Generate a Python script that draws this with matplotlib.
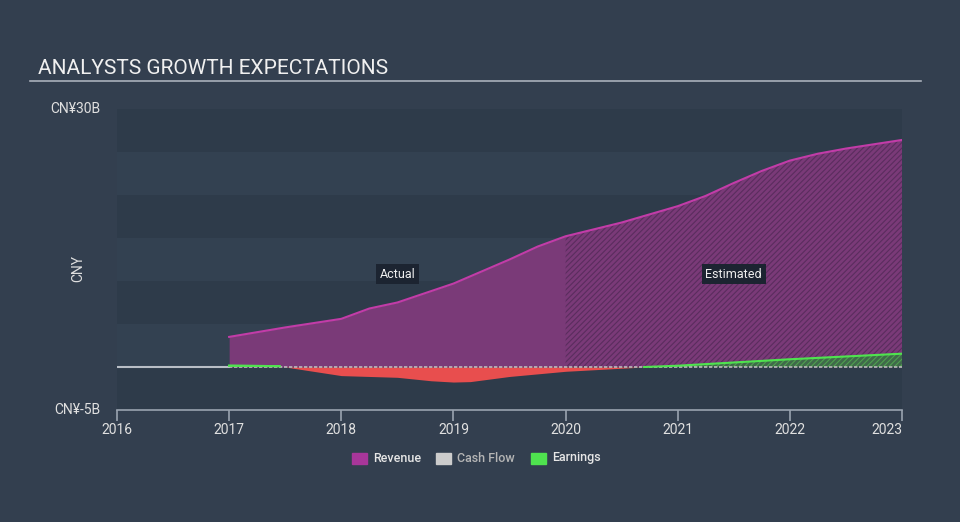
import matplotlib.pyplot as plt
import numpy as np

plt.rcParams['font.family'] = ['Roboto', 'DejaVu Sans']
plt.rcParams['hatch.linewidth'] = 0.8

# revenue, CNY billions
rev_x = [2017.0, 2017.5, 2018.0, 2018.25, 2018.5, 2018.75, 2019.0, 2019.25, 2019.5, 2019.75, 2020.0,
         2020.5, 2021.0, 2021.25, 2021.5, 2021.75, 2022.0, 2022.25, 2022.5, 2022.75, 2023.0]
rev_y = [3.5, 4.6, 5.6, 6.8, 7.5, 8.6, 9.7, 11.1, 12.5, 14.0, 15.2,
         16.8, 18.7, 19.9, 21.4, 22.8, 24.0, 24.8, 25.4, 25.9, 26.4]

# earnings, CNY billions
earn_x = [2017.0, 2017.45, 2017.7, 2018.0, 2018.5, 2018.8, 2019.0, 2019.15, 2019.5, 2020.0,
          2020.7, 2021.0, 2022.0, 2023.0]
earn_y = [0.15, 0.1, -0.4, -1.0, -1.2, -1.6, -1.75, -1.7, -1.1, -0.5,
          0.0, 0.15, 0.9, 1.55]

# cash flow, CNY billions
cf_x = [2017.0, 2018.0, 2019.0, 2020.0, 2021.0, 2022.0, 2023.0]
cf_y = [0.0, 0.0, 0.0, 0.0, 0.0, 0.0, 0.0]

years = [2016, 2017, 2018, 2019, 2020, 2021, 2022, 2023]
split = 2020.0

bg = '#333f4f'
band_dark = '#2e3b4a'
band_light = '#334151'
rev_fill = '#7a3a78'
rev_line = '#c23ca8'
earn_line = '#4fe34f'
neg_fill = '#e84e4e'

fig = plt.figure(figsize=(9.6, 5.22), dpi=100, facecolor=bg)
ax = fig.add_axes([117 / 960, 1 - 410 / 522, (902 - 117) / 960, (410 - 109) / 522])
ax.set_facecolor(bg)
ax.set_xlim(2016, 2023.0)
ax.set_ylim(-5, 30)

# background bands
for i, lo in enumerate(range(-5, 30, 5)):
    ax.axhspan(lo, lo + 5, color=band_dark if i % 2 == 0 else band_light, lw=0, zorder=0)

rx = np.array(rev_x)
ry = np.array(rev_y)
act = rx <= split
est = rx >= split
ax.fill_between(rx[act], 0, ry[act], color=rev_fill, lw=0, zorder=1)
ax.fill_between(rx[est], 0, ry[est], facecolor=rev_fill, edgecolor='#5a2d5e', hatch='//////', lw=0, zorder=1)
ax.plot(rx, ry, color=rev_line, lw=1.5, zorder=3)

ex = np.array(earn_x)
ey = np.array(earn_y)
ax.fill_between(ex, 0, ey, where=ey < 0, interpolate=True, color=neg_fill, lw=0, zorder=2)
ee = ex >= split
ax.fill_between(ex[ee], 0, np.clip(ey[ee], 0, None), facecolor='#3f6a4a', edgecolor='#4fa04f',
                hatch='//////', lw=0, zorder=2)
ax.plot(ex, np.where(ey >= 0, ey, np.nan), color=earn_line, lw=1.5, zorder=4)
ax.plot(ex[ex <= 2017.5], ey[ex <= 2017.5], color=earn_line, lw=1.5, zorder=4)

ax.plot(cf_x, cf_y, color='#bbbbbb', lw=1.2, ls=(0, (2, 1)), zorder=3)
ax.axhline(0, color='#b9bec6', lw=1.5, zorder=2.5, xmax=(2017 - 2016) / 7)

for s in ['top', 'right', 'left']:
    ax.spines[s].set_visible(False)
ax.spines['bottom'].set_color('#9aa3b0')
ax.spines['bottom'].set_linewidth(1.2)
ax.set_xticks(years)
ax.set_xticklabels([str(y) for y in years])
ax.tick_params(axis='x', colors='#9aa3b0', length=8, width=1.2, direction='out',
               labelcolor='#e0e0e0', labelsize=10, pad=1)
ax.get_xticklabels()[-1].set_ha('right')
ax.get_xticklabels()[-1].set_x(2023.0)
ax.set_yticks([])

fig.text(100 / 960, 1 - 109 / 522, 'CN¥30B', color='#e0e0e0', fontsize=10, ha='right', va='center')
fig.text(100 / 960, 1 - 410 / 522, 'CN¥-5B', color='#e0e0e0', fontsize=10, ha='right', va='center')
fig.text(78 / 960, 1 - 268 / 522, 'CNY', color='#e0e0e0', fontsize=10, rotation=90, ha='center', va='center')

fig.text(38 / 960, 1 - 69 / 522, 'ANALYSTS GROWTH EXPECTATIONS', color='#f0f0f0', fontsize=15,
         ha='left', va='center')
fig.add_artist(plt.Line2D([30 / 960, 921 / 960], [1 - 81 / 522, 1 - 81 / 522], color='#a9b0ba', lw=1.2))

box = dict(boxstyle='square,pad=0.3', fc='#1c2431', ec='none')
ax.text(2018.5, 10.8, 'Actual', color='#eeeeee', fontsize=9, ha='center', va='center', bbox=box, zorder=6)
ax.text(2021.5, 10.8, 'Estimated', color='#eeeeee', fontsize=9, ha='center', va='center', bbox=box, zorder=6)

# legend
items = [('Revenue', '#a8369a', '#e6e6e6'), ('Cash Flow', '#cccccc', '#b5b5b5'), ('Earnings', '#4fe34f', '#e6e6e6')]
xs = [352, 436, 531]
for (lab, c, tc), x0 in zip(items, xs):
    fig.patches.append(plt.Rectangle((x0 / 960, 1 - 464 / 522), 15 / 960, 11 / 522,
                                     transform=fig.transFigure, color=c))
    fig.text((x0 + 21) / 960, 1 - 458 / 522, lab, color=tc, fontsize=9, ha='left', va='center',
             fontweight='medium')

fig.savefig('out.png', dpi=100, facecolor=bg)
